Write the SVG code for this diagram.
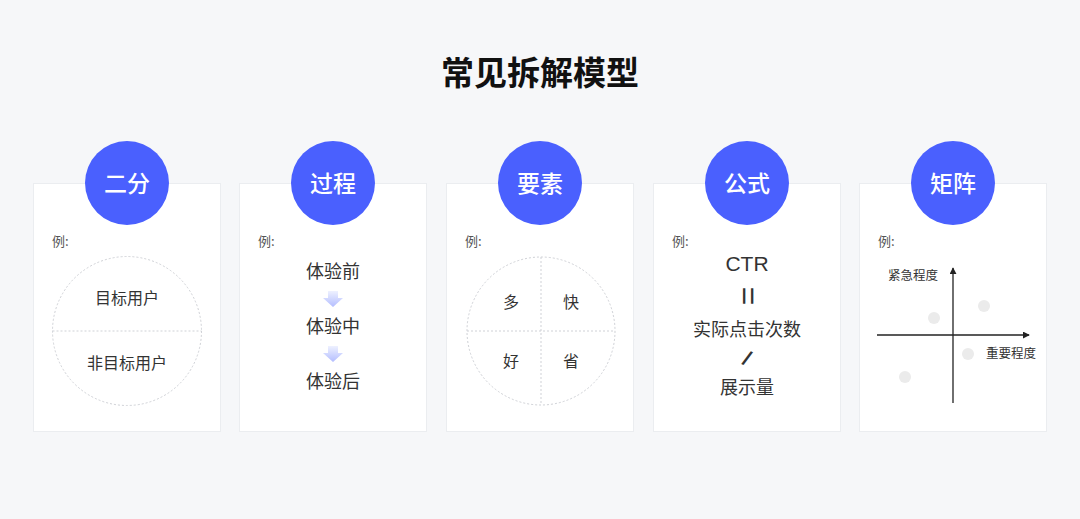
<svg xmlns="http://www.w3.org/2000/svg" width="1080" height="519" viewBox="0 0 1080 519">
<defs>
<style>
.card{fill:#fff;stroke:#ebedf0;stroke-width:1}
.badge{fill:#4a60fe}
.bt{font-family:"Noto Sans CJK SC",sans-serif;font-size:23px;fill:#fff;text-anchor:middle;font-weight:500}
.ex{font-family:"Noto Sans CJK SC",sans-serif;font-size:13px;fill:#555}
.t{font-family:"Noto Sans CJK SC",sans-serif;fill:#333;text-anchor:middle}
.lat{font-family:"Liberation Sans",Arial,sans-serif;fill:#333;text-anchor:middle}
.dash{fill:none;stroke:#cfd1d6;stroke-width:1;stroke-dasharray:2 2}
.dot{fill:#ebebeb}
.ax{stroke:#222;stroke-width:1.3;fill:none}
</style>
<linearGradient id="ag" x1="0" y1="0" x2="0" y2="1">
<stop offset="0" stop-color="#eef1ff"/>
<stop offset="1" stop-color="#b3bdff"/>
</linearGradient>
<marker id="ah" viewBox="0 0 8 8" refX="7" refY="4" markerWidth="7" markerHeight="7" orient="auto" markerUnits="userSpaceOnUse">
<path d="M0,0 L8,4 L0,8 Z" fill="#222"/>
</marker>
</defs>
<rect width="1080" height="519" fill="#f6f7f9"/>
<text x="540" y="85" font-family="Noto Sans CJK SC,sans-serif" font-size="33" font-weight="bold" fill="#111" text-anchor="middle">常见拆解模型</text>

<g id="card-erfen">
<rect class="card" x="33.5" y="183.5" width="187" height="248"/>
<circle class="badge" cx="127" cy="183" r="42"/>
<text class="bt" x="127" y="192">二分</text>
<text class="ex" x="52" y="246">例:</text>
<circle class="dash" cx="127" cy="331" r="74.5"/>
<line class="dash" x1="52.5" y1="331" x2="201.5" y2="331"/>
<text class="t" x="127" y="304" font-size="16">目标用户</text>
<text class="t" x="127" y="369" font-size="16">非目标用户</text>
</g>

<g id="card-guocheng">
<rect class="card" x="239.5" y="183.5" width="187" height="248"/>
<circle class="badge" cx="333" cy="183" r="42"/>
<text class="bt" x="333" y="192">过程</text>
<text class="ex" x="258" y="246">例:</text>
<text class="t" x="333" y="278" font-size="18">体验前</text>
<text class="t" x="333" y="333" font-size="18">体验中</text>
<text class="t" x="333" y="388" font-size="18">体验后</text>
<path d="M328,291 h10 v7 h5 l-10,9 l-10,-9 h5 z" fill="url(#ag)"/>
<path d="M328,346 h10 v7 h5 l-10,9 l-10,-9 h5 z" fill="url(#ag)"/>
</g>

<g id="card-yaosu">
<rect class="card" x="446.5" y="183.5" width="187" height="248"/>
<circle class="badge" cx="540" cy="183" r="42"/>
<text class="bt" x="540" y="192">要素</text>
<text class="ex" x="465" y="246">例:</text>
<circle class="dash" cx="541" cy="331" r="74"/>
<line class="dash" x1="467" y1="331" x2="615" y2="331"/>
<line class="dash" x1="541" y1="257" x2="541" y2="405"/>
<text class="t" x="511" y="308" font-size="16">多</text>
<text class="t" x="571" y="308" font-size="16">快</text>
<text class="t" x="511" y="367" font-size="16">好</text>
<text class="t" x="571" y="367" font-size="16">省</text>
</g>

<g id="card-gongshi">
<rect class="card" x="653.5" y="183.5" width="187" height="248"/>
<circle class="badge" cx="747" cy="183" r="42"/>
<text class="bt" x="747" y="192">公式</text>
<text class="ex" x="672" y="246">例:</text>
<text class="lat" x="747" y="271" style="font-size:21px">CTR</text>
<text class="lat" transform="translate(747,296) rotate(90)" y="9" style="font-size:32px">=</text>
<text class="t" x="747" y="336" font-size="18">实际点击次数</text>
<text class="lat" transform="translate(747,358.5) rotate(26)" y="7" style="font-size:21px;font-weight:bold">/</text>
<text class="t" x="747" y="394" font-size="18">展示量</text>
</g>

<g id="card-juzhen">
<rect class="card" x="859.5" y="183.5" width="187" height="248"/>
<circle class="badge" cx="953" cy="183" r="42"/>
<text class="bt" x="953" y="192">矩阵</text>
<text class="ex" x="878" y="246">例:</text>
<text class="t" x="913" y="280" font-size="12.5">紧急程度</text>
<text class="t" x="1011" y="358" font-size="12.5">重要程度</text>
<circle class="dot" cx="984" cy="306" r="6"/>
<circle class="dot" cx="934" cy="318" r="6"/>
<circle class="dot" cx="968" cy="354" r="6"/>
<circle class="dot" cx="905" cy="377" r="6"/>
</g>

<g id="connectors">
<line class="ax" x1="953" y1="403" x2="953" y2="268" marker-end="url(#ah)"/>
<line class="ax" x1="877" y1="335" x2="1029" y2="335" marker-end="url(#ah)"/>
</g>
</svg>
